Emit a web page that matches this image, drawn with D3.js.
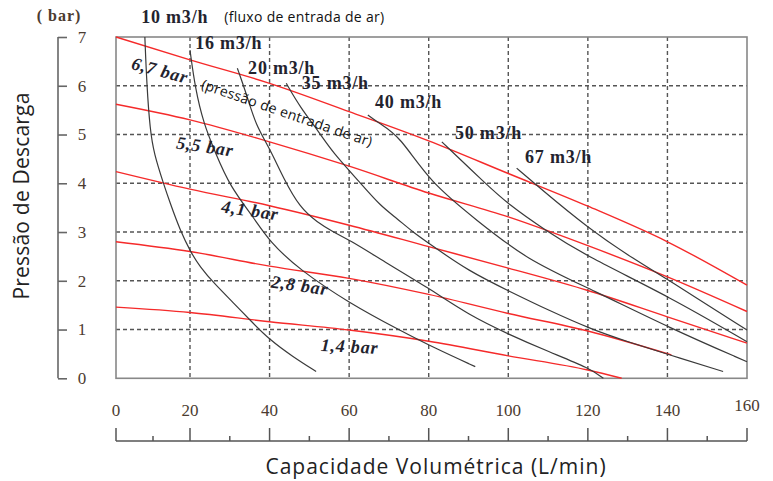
<!DOCTYPE html>
<html>
<head>
<meta charset="utf-8">
<script src="https://cdn.jsdelivr.net/npm/d3@7"></script>
<style>
  body { margin: 0; background: #fff; }
  svg { display: block; }
</style>
</head>
<body>
<svg id="chart" width="773" height="481"></svg>
<script>
// ticks
var xTickValues = [0, 20, 40, 60, 80, 100, 120, 140, 160];
var yTickValues = [0, 1, 2, 3, 4, 5, 6, 7];

// air inlet pressure lines (red), [L/min, bar]
var pressure67 = [[0, 7.0], [20, 6.53], [40, 6.05], [60, 5.47], [80, 4.87], [100, 4.2], [120, 3.53], [140, 2.8], [160, 1.91]];
var pressure55 = [[0, 5.62], [20, 5.3], [40, 4.85], [60, 4.35], [80, 3.8], [100, 3.31], [120, 2.72], [140, 2.08], [160, 1.37]];
var pressure41 = [[0, 4.24], [20, 3.88], [40, 3.54], [60, 3.14], [80, 2.7], [100, 2.26], [120, 1.8], [140, 1.26], [160, 0.72]];
var pressure28 = [[0, 2.8], [20, 2.6], [40, 2.3], [60, 2.05], [80, 1.72], [100, 1.33], [120, 0.97], [141, 0.48]];
var pressure14 = [[0, 1.46], [20, 1.35], [40, 1.16], [60, 0.99], [80, 0.76], [100, 0.46], [120, 0.17], [128.5, 0]];

// air consumption curves (black)
var flow10 = [[7.8, 7.0], [8.3, 6.05], [9.2, 5.09], [10.3, 4.6], [12.8, 4.0], [14.6, 3.6], [17.3, 3.04], [20.2, 2.58], [22.5, 2.29], [26, 1.95], [30.9, 1.55], [35, 1.2], [40, 0.79], [45.9, 0.44], [51.7, 0.14]];
var flow16 = [[20, 6.73], [21.3, 5.95], [23.4, 5.23], [26.4, 4.62], [30.1, 3.93], [35.9, 3.31], [40, 2.8], [47.6, 2.22], [60.1, 1.54], [72.6, 0.99], [82, 0.6], [91.7, 0.24]];
var flow20 = [[31.9, 6.36], [34.4, 5.78], [36.5, 5.2], [40, 4.72], [43.5, 4.1], [47.6, 3.5], [52, 3.2], [56, 3.0], [60, 2.84], [68.7, 2.4], [80, 1.85], [90, 1.3], [100.4, 0.89], [110, 0.55], [120.6, 0.2], [123.9, 0]];
var flow35 = [[44.2, 6.05], [47.6, 5.57], [52.7, 5.02], [55.7, 4.65], [62.9, 4.0], [67.7, 3.55], [72, 3.28], [76, 3.0], [80.7, 2.73], [90, 2.2], [100.4, 1.78], [110, 1.4], [121.3, 0.99], [130, 0.75], [140.6, 0.48], [154, 0.14]];
var flow40 = [[64.7, 5.4], [67.7, 5.22], [72.6, 4.98], [80.5, 4.0], [92, 3.25], [104.6, 2.43], [121.3, 1.81], [140.6, 1.03], [160, 0.34]];
var flow50 = [[83.3, 4.85], [94.2, 4.0], [100, 3.57], [109.2, 3.04], [120, 2.49], [140.6, 1.67], [160, 0.75]];
var flow67 = [[102.1, 4.31], [107.1, 3.96], [120, 3.08], [131.8, 2.43], [140.2, 2.02], [160, 0.99]];

var pressureLines = [pressure67, pressure55, pressure41, pressure28, pressure14];
var flowCurves = [flow10, flow16, flow20, flow35, flow40, flow50, flow67];

var flowNames = ['10 m3/h', '16 m3/h', '20 m3/h', '35 m3/h', '40 m3/h', '50 m3/h', '67 m3/h'];
var pressureNames = ['6,7 bar', '5,5 bar', '4,1 bar', '2,8 bar', '1,4 bar'];

var svg = d3.select('#chart');

// plot frame (the original image is slightly stretched near x=0, so two segments)
var x = d3.scaleLinear().domain([0, 20, 160]).range([116, 190, 747]);
var y = d3.scaleLinear().domain([0, 7]).range([378.3, 37]);

var serif = '"Liberation Serif", "Times New Roman", serif';
var sans = '"Open Sans", "Noto Sans", sans-serif';

// dashed grid
svg.append('g')
  .selectAll('line')
  .data(xTickValues.slice(1, -1))
  .enter()
  .append('line')
  .attr('x1', function (d) { return x(d); })
  .attr('x2', function (d) { return x(d); })
  .attr('y1', y(7))
  .attr('y2', y(0))
  .attr('stroke', '#555')
  .attr('stroke-width', 1.4)
  .attr('stroke-dasharray', '4,3');

svg.append('g')
  .selectAll('line')
  .data(yTickValues.slice(1, -1))
  .enter()
  .append('line')
  .attr('x1', x(0))
  .attr('x2', x(160))
  .attr('y1', function (d) { return y(d); })
  .attr('y2', function (d) { return y(d); })
  .attr('stroke', '#555')
  .attr('stroke-width', 1.4)
  .attr('stroke-dasharray', '4,3');

svg.append('rect')
  .attr('x', x(0))
  .attr('y', y(7))
  .attr('width', x(160) - x(0))
  .attr('height', y(0) - y(7))
  .attr('fill', 'none')
  .attr('stroke', '#888')
  .attr('stroke-width', 1.6);

// left axis, detached from the plot
var yAxis = d3.axisRight(y).tickValues(yTickValues).tickSize(9).tickFormat(d3.format('d'));
var yAxisG = svg.append('g')
  .attr('transform', 'translate(58,0)')
  .call(yAxis);
yAxisG.select('.domain').attr('stroke', '#666').attr('stroke-width', 1.6).attr('d', 'M0,' + y(0) + 'V' + y(7));
yAxisG.selectAll('.tick line').attr('stroke', '#666').attr('stroke-width', 1.6);
yAxisG.selectAll('.tick text')
  .attr('x', 24)
  .attr('text-anchor', 'middle')
  .attr('fill', '#4b3b30')
  .style('font-family', serif)
  .style('font-size', '17px');

svg.append('text')
  .attr('x', 59)
  .attr('y', 21)
  .attr('text-anchor', 'middle')
  .attr('fill', '#4b3b30')
  .style('font-family', serif)
  .style('font-weight', 'bold')
  .style('font-size', '16px')
  .style('letter-spacing', '1px')
  .text('( bar)');

// bottom axis, detached below the plot
var xMinor = d3.range(10, 160, 20);
var xAxisG = svg.append('g').attr('transform', 'translate(0,441)');
xAxisG.append('line')
  .attr('x1', x(0)).attr('x2', x(160))
  .attr('stroke', '#555').attr('stroke-width', 1.5);
xAxisG.selectAll('.major')
  .data(xTickValues)
  .enter()
  .append('line')
  .attr('class', 'major')
  .attr('x1', function (d) { return x(d); })
  .attr('x2', function (d) { return x(d); })
  .attr('y1', 0).attr('y2', -13)
  .attr('stroke', '#555').attr('stroke-width', 1.5);
xAxisG.selectAll('.minor')
  .data(xMinor)
  .enter()
  .append('line')
  .attr('class', 'minor')
  .attr('x1', function (d) { return x(d); })
  .attr('x2', function (d) { return x(d); })
  .attr('y1', 0).attr('y2', -5)
  .attr('stroke', '#555').attr('stroke-width', 1.5);
xAxisG.selectAll('text')
  .data(xTickValues)
  .enter()
  .append('text')
  .attr('x', function (d) { return x(d); })
  .attr('y', function (d) { return d === 160 ? -30 : -25; })
  .attr('text-anchor', 'middle')
  .attr('fill', '#4b3b30')
  .style('font-family', serif)
  .style('font-size', '17px')
  .text(function (d) { return d; });

// curves
var line = d3.line()
  .x(function (d) { return x(d[0]); })
  .y(function (d) { return y(d[1]); });

svg.append('g')
  .selectAll('path')
  .data(pressureLines)
  .enter()
  .append('path')
  .attr('d', line.curve(d3.curveMonotoneX))
  .attr('fill', 'none')
  .attr('stroke', '#f52a2a')
  .attr('stroke-width', 1.4);

svg.append('g')
  .selectAll('path')
  .data(flowCurves)
  .enter()
  .append('path')
  .attr('d', line.curve(d3.curveBasis))
  .attr('fill', 'none')
  .attr('stroke', '#3a3a3a')
  .attr('stroke-width', 1.2);

// labels on curves
var flowLabelAt = [[6.8, 7.29], [21.3, 6.75], [34.6, 6.24], [48.1, 5.93], [66.5, 5.54], [86.6, 4.91], [104.2, 4.42]];
svg.append('g')
  .selectAll('text')
  .data(flowNames)
  .enter()
  .append('text')
  .attr('x', function (d, i) { return x(flowLabelAt[i][0]); })
  .attr('y', function (d, i) { return y(flowLabelAt[i][1]); })
  .attr('fill', '#23232e')
  .style('font-family', serif)
  .style('font-weight', 'bold')
  .style('font-size', '18px')
  .style('letter-spacing', '0.8px')
  .text(function (d) { return d; });

var pressureLabelAt = [[11.9, 6.32, 15], [23.8, 4.76, 8], [35.1, 3.45, 8], [47.6, 1.91, 8], [60.1, 0.66, 3]];
svg.append('g')
  .selectAll('text')
  .data(pressureNames)
  .enter()
  .append('text')
  .attr('transform', function (d, i) {
    var p = pressureLabelAt[i];
    return 'translate(' + x(p[0]) + ',' + y(p[1]) + ') rotate(' + p[2] + ')';
  })
  .attr('text-anchor', 'middle')
  .attr('dy', '0.35em')
  .attr('fill', '#23232e')
  .style('font-family', serif)
  .style('font-weight', 'bold')
  .style('font-style', 'italic')
  .style('font-size', '18px')
  .style('letter-spacing', '0.8px')
  .text(function (d) { return d; });

svg.append('text')
  .attr('x', x(28.6))
  .attr('y', 22)
  .attr('fill', '#111')
  .style('font-family', sans)
  .style('font-size', '14px')
  .style('letter-spacing', '0.3px')
  .text('(fluxo de entrada de ar)');

svg.append('text')
  .attr('transform', 'translate(' + x(44.4) + ',' + y(5.44) + ') rotate(19)')
  .attr('text-anchor', 'middle')
  .attr('dy', '0.35em')
  .attr('fill', '#111')
  .style('font-family', sans)
  .style('font-size', '14px')
  .style('letter-spacing', '0.3px')
  .text('(pressão de entrada de ar)');

// axis titles
svg.append('text')
  .attr('transform', 'translate(29,196) rotate(-90)')
  .attr('text-anchor', 'middle')
  .attr('fill', '#222')
  .style('font-family', sans)
  .style('font-size', '21px')
  .style('letter-spacing', '0.2px')
  .text('Pressão de Descarga');

svg.append('text')
  .attr('x', 436)
  .attr('y', 474)
  .attr('text-anchor', 'middle')
  .attr('fill', '#222')
  .style('font-family', sans)
  .style('font-size', '21px')
  .style('letter-spacing', '1px')
  .text('Capacidade Volumétrica (L/min)');
</script>
</body>
</html>
